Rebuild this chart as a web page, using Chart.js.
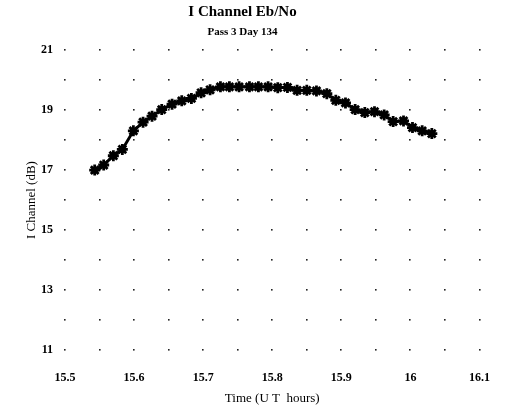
<!DOCTYPE html>
<html>
<head>
<meta charset="utf-8">
<script src="https://cdn.jsdelivr.net/npm/chart.js@4.4.1/dist/chart.umd.min.js"></script>
<style>
  html, body { margin: 0; padding: 0; background: #fff; }
  #wrap { width: 511px; height: 406px; }
</style>
</head>
<body>
<div id="wrap"><canvas id="chart" width="511" height="406"></canvas></div>
<script>
// time of each sample, UT hours
const timeHours = [
  15.543, 15.556, 15.570, 15.583, 15.599, 15.613, 15.626, 15.640, 15.655,
  15.669, 15.683, 15.697, 15.710, 15.725, 15.738, 15.752, 15.767, 15.780,
  15.794, 15.808, 15.822, 15.836, 15.850, 15.864, 15.879, 15.892, 15.906,
  15.920, 15.934, 15.948, 15.962, 15.975, 15.990, 16.003, 16.017, 16.031,
];

// I channel Eb/No, dB
const iChannelDb = [
  17.00, 17.17, 17.48, 17.69, 18.31, 18.60, 18.80, 19.02, 19.20,
  19.31, 19.39, 19.58, 19.68, 19.78, 19.78, 19.78, 19.78, 19.78,
  19.78, 19.75, 19.76, 19.66, 19.66, 19.64, 19.55, 19.33, 19.24,
  19.02, 18.92, 18.95, 18.84, 18.62, 18.64, 18.42, 18.31, 18.22,
];

const xRange = [15.5, 16.1];
const yRange = [11, 21];

const FONT = "'Liberation Serif', 'DejaVu Serif', serif";

// dotted grid: a dot every 0.05 h and every 1 dB
const dotGrid = {
  id: "dotGrid",
  beforeDatasetsDraw(chart) {
    const { ctx, scales } = chart;
    ctx.save();
    ctx.fillStyle = "#222";
    for (let xv = xRange[0]; xv <= xRange[1] + 1e-6; xv += 0.05) {
      for (let yv = yRange[0]; yv <= yRange[1]; yv += 1) {
        const px = Math.round(scales.x.getPixelForValue(xv));
        const py = Math.round(scales.y.getPixelForValue(yv));
        ctx.fillRect(px - 1, py - 1, 1.6, 1.6);
      }
    }
    ctx.restore();
  },
};

const points = timeHours.map((t, i) => ({ x: t, y: iChannelDb[i] }));

new Chart(document.getElementById("chart"), {
  type: "line",
  data: {
    datasets: [
      {
        label: "I Channel",
        data: points,
        borderColor: "#000",
        backgroundColor: "#000",
        borderWidth: 3,
        pointStyle: "star",
        pointRadius: 5.5,
        pointBorderWidth: 2.8,
        pointBorderColor: "#000",
        tension: 0,
      },
    ],
  },
  options: {
    responsive: false,
    animation: false,
    layout: { padding: { top: 0, right: 26, bottom: 0, left: 0 } },
    plugins: {
      legend: { display: false },
      tooltip: { enabled: false },
      title: {
        display: true,
        text: "I Channel Eb/No",
        color: "#000",
        font: { family: FONT, size: 15, weight: "bold" },
        padding: { top: 3, bottom: 2 },
      },
      subtitle: {
        display: true,
        text: "Pass 3 Day 134",
        color: "#000",
        font: { family: FONT, size: 11, weight: "bold" },
        padding: { top: 3, bottom: 11 },
      },
    },
    scales: {
      x: {
        type: "linear",
        min: xRange[0],
        max: xRange[1],
        grid: { display: false, drawTicks: false },
        border: { display: false },
        ticks: {
          stepSize: 0.1,
          color: "#000",
          padding: 21,
          maxRotation: 0,
          font: { family: FONT, size: 12, weight: "bold" },
          callback: (v) => String(Number(v.toFixed(2))),
        },
        title: {
          display: true,
          text: "Time (U T  hours)",
          color: "#000",
          font: { family: FONT, size: 13 },
          padding: { top: 3, bottom: 0 },
        },
        afterFit(scale) {
          scale.height = 56;
        },
      },
      y: {
        min: yRange[0],
        max: yRange[1],
        grid: { display: false, drawTicks: false },
        border: { display: false },
        ticks: {
          stepSize: 2,
          color: "#000",
          padding: 12,
          font: { family: FONT, size: 12, weight: "bold" },
        },
        title: {
          display: true,
          text: "I Channel (dB)",
          color: "#000",
          font: { family: FONT, size: 13 },
          padding: { top: 24, bottom: 0 },
        },
        afterFit(scale) {
          scale.width = 65;
        },
      },
    },
  },
  plugins: [dotGrid],
});
</script>
</body>
</html>
